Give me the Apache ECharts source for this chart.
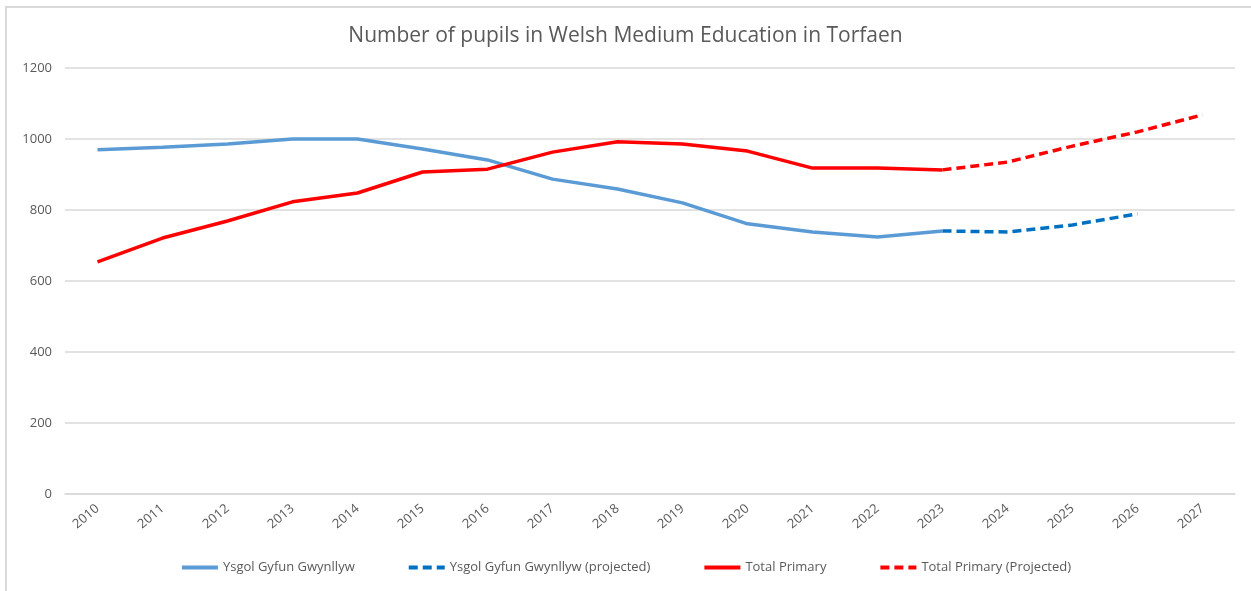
<!DOCTYPE html>
<html>
<head>
<meta charset="utf-8">
<script src="https://cdn.jsdelivr.net/npm/echarts@6/dist/echarts.min.js"></script>
<style>
  html, body { margin: 0; padding: 0; background: #fff; }
  #frame { position: absolute; left: 5px; top: 6px; width: 1260px; height: 600px;
           border-top: 2px solid #d9d9d9; border-left: 2px solid #d9d9d9; }
  #main { position: absolute; left: 0; top: 0; width: 1251px; height: 591px; }
</style>
</head>
<body>
<div id="frame"></div>
<div id="main"></div>
<script>
// years on the x axis
const years = ['2010','2011','2012','2013','2014','2015','2016','2017','2018',
  '2019','2020','2021','2022','2023','2024','2025','2026','2027'];

const ysgolActual = [970, 977, 986, 1000, 1000, 972, 941, 887, 859, 820, 761, 738, 724, 741,
  null, null, null, null];
const ysgolProjected = [null, null, null, null, null, null, null, null, null, null, null, null, null, 741,
  738, 758, 789, null];
const primaryActual = [654, 721, 769, 823, 848, 907, 915, 963, 992, 986, 966, 918, 918, 913,
  null, null, null, null];
const primaryProjected = [null, null, null, null, null, null, null, null, null, null, null, null, null, 913,
  935, 980, 1020, 1068];

const font = '"Open Sans", "Noto Sans", sans-serif';
const grey = '#595959';

const chart = echarts.init(document.getElementById('main'));

function lineSeries(name, data, color, dashed) {
  return {
    name: name,
    type: 'line',
    data: data,
    symbol: 'none',
    connectNulls: false,
    lineStyle: { color: color, width: 3.5, type: dashed ? [9, 5] : 'solid' },
    itemStyle: { color: color }
  };
}

chart.setOption({
  animation: false,
  title: {
    text: 'Number of pupils in Welsh Medium Education in Torfaen',
    left: 'center',
    top: 21,
    textStyle: { color: grey, fontSize: 21, fontWeight: 'normal', fontFamily: font }
  },
  grid: { left: 65, right: 16, top: 68, bottom: 97 },
  legend: {
    bottom: 12,
    left: 'center',
    itemWidth: 36,
    itemHeight: 6,
    itemGap: 52,
    itemStyle: { opacity: 0 },
    lineStyle: { width: 4 },
    textStyle: { color: grey, fontSize: 13, fontFamily: font },
    data: ['Ysgol Gyfun Gwynllyw', 'Ysgol Gyfun Gwynllyw (projected)', 'Total Primary', 'Total Primary (Projected)']
  },
  xAxis: {
    type: 'category',
    data: years,
    boundaryGap: true,
    axisLine: { show: true, lineStyle: { color: '#d9d9d9', width: 1.5 } },
    axisTick: { show: false },
    axisLabel: { color: grey, fontSize: 13, fontFamily: font, rotate: 40, margin: 13, interval: 0 }
  },
  yAxis: {
    type: 'value',
    min: 0,
    max: 1200,
    interval: 200,
    axisLine: { show: false },
    axisTick: { show: false },
    axisLabel: { color: grey, fontSize: 13, fontFamily: font, margin: 13, formatter: (v) => String(v) },
    splitLine: { lineStyle: { color: '#d9d9d9', width: 1.5 } }
  },
  series: [
    lineSeries('Ysgol Gyfun Gwynllyw', ysgolActual, '#5b9bd5', false),
    lineSeries('Ysgol Gyfun Gwynllyw (projected)', ysgolProjected, '#0070c0', true),
    lineSeries('Total Primary', primaryActual, '#ff0000', false),
    lineSeries('Total Primary (Projected)', primaryProjected, '#ff0000', true)
  ]
});
</script>
</body>
</html>
